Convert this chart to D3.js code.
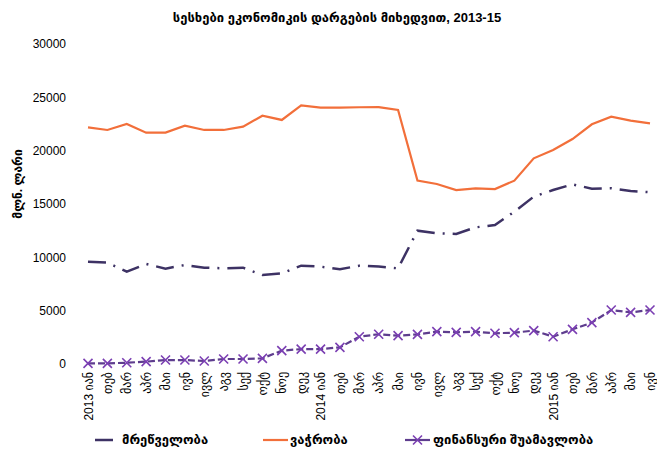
<!DOCTYPE html>
<html lang="ka">
<head>
<meta charset="UTF-8">
<script src="https://d3js.org/d3.v7.min.js"></script>
<style>
  body { margin: 0; background: #fff; }
  svg text { font-family: "Liberation Sans", "DejaVu Sans", sans-serif; fill: #000; }
</style>
</head>
<body>
<svg id="svg" width="657" height="459"></svg>
<script>
const months = ["2013 იან", "თებ", "მარ", "აპრ", "მაი", "ივნ", "ივლ", "აგვ", "სექ", "ოქტ", "ნოე", "დეკ",
  "2014 იან", "თებ", "მარ", "აპრ", "მაი", "ივნ", "ივლ", "აგვ", "სექ", "ოქტ", "ნოე", "დეკ",
  "2015 იან", "თებ", "მარ", "აპრ", "მაი", "ივნ"];

const industry = [9590, 9500, 8650, 9380, 8940, 9280, 9030, 8970, 9030, 8340, 8500, 9220,
  9130, 8880, 9220, 9130, 8970, 12500, 12250, 12190, 12810, 13030, 14280, 15690,
  16310, 16840, 16440, 16480, 16220, 16100];

const trade = [22190, 21940, 22500, 21690, 21690, 22340, 21940, 21940, 22250, 23280, 22880, 24250,
  24030, 24030, 24070, 24090, 23810, 17190, 16880, 16310, 16470, 16400, 17190, 19280,
  20060, 21090, 22470, 23190, 22810, 22560];

const finance = [60, 60, 120, 220, 370, 370, 280, 470, 470, 530, 1250, 1400,
  1400, 1560, 2560, 2790, 2660, 2780, 3030, 2970, 3030, 2880, 2940, 3130,
  2560, 3250, 3880, 5060, 4840, 5060];

const yTicks = [0, 5000, 10000, 15000, 20000, 25000, 30000];

const svg = d3.select("#svg");

const x = d3.scalePoint().domain(d3.range(months.length)).range([88, 650]);
const y = d3.scaleLinear().domain([0, 30000]).range([364, 44]);

// title
svg.append("text")
  .attr("x", 337).attr("y", 22)
  .attr("text-anchor", "middle")
  .attr("font-size", 13).attr("font-weight", "bold")
  .text("სესხები ეკონომიკის დარგების მიხედვით, 2013-15");

// y axis
const yAxis = svg.append("g")
  .attr("transform", "translate(70,0)")
  .call(d3.axisLeft(y).tickValues(yTicks).tickFormat(d3.format("d")).tickSize(0).tickPadding(4));
yAxis.select(".domain").remove();
yAxis.selectAll("text").attr("font-size", 12).attr("fill", "#000");

svg.append("text")
  .attr("transform", "translate(22,184) rotate(-90)")
  .attr("text-anchor", "middle")
  .attr("font-size", 12).attr("font-weight", "bold")
  .text("მლნ. ლარი");

// x axis
const xAxis = svg.append("g")
  .attr("transform", "translate(0,370)")
  .call(d3.axisBottom(x).tickFormat(i => months[i]).tickSize(0).tickPadding(0));
xAxis.select(".domain").remove();
xAxis.selectAll("text")
  .attr("font-size", 12)
  .attr("fill", "#000")
  .attr("text-anchor", "end")
  .attr("dy", "0.35em")
  .attr("transform", "rotate(-90)")
  .attr("x", -2).attr("y", 0);

const line = d3.line().x((d, i) => x(i)).y(d => y(d));

const colInd = "#3d3264";
const colTrade = "#f26f3a";
const colFinLine = "#5e3d8e";
const colFinMark = "#7b3fb3";

svg.append("path").datum(trade)
  .attr("d", line).attr("fill", "none")
  .attr("stroke", colTrade).attr("stroke-width", 2.2);

svg.append("path").datum(industry)
  .attr("d", line).attr("fill", "none")
  .attr("stroke", colInd).attr("stroke-width", 2.5)
  .attr("stroke-dasharray", "18,8,2,8");

svg.append("path").datum(finance)
  .attr("d", line).attr("fill", "none")
  .attr("stroke", colFinLine).attr("stroke-width", 2.2)
  .attr("stroke-dasharray", "7,3");

function cross(g, cx, cy) {
  const s = 4.5;
  g.append("path")
    .attr("d", `M${cx - s},${cy - s}L${cx + s},${cy + s}M${cx - s},${cy + s}L${cx + s},${cy - s}`)
    .attr("stroke", colFinMark).attr("stroke-width", 1.6).attr("fill", "none");
}

const marks = svg.append("g");
finance.forEach((d, i) => cross(marks, x(i), y(d)));

// legend
const legY = 440;
const leg = svg.append("g");
leg.append("line").attr("x1", 95).attr("x2", 113).attr("y1", legY).attr("y2", legY)
  .attr("stroke", colInd).attr("stroke-width", 2.5);
leg.append("text").attr("x", 122).attr("y", legY + 4).attr("font-size", 13).attr("font-weight", "bold")
  .text("მრეწველობა");
leg.append("line").attr("x1", 263).attr("x2", 288).attr("y1", legY).attr("y2", legY)
  .attr("stroke", colTrade).attr("stroke-width", 2.2);
leg.append("text").attr("x", 290).attr("y", legY + 4).attr("font-size", 13).attr("font-weight", "bold")
  .text("ვაჭრობა");
leg.append("line").attr("x1", 405).attr("x2", 430).attr("y1", legY).attr("y2", legY)
  .attr("stroke", colFinLine).attr("stroke-width", 2.2);
cross(leg, 417.5, legY);
leg.append("text").attr("x", 433).attr("y", legY + 4).attr("font-size", 13).attr("font-weight", "bold")
  .text("ფინანსური შუამავლობა");
</script>
</body>
</html>
